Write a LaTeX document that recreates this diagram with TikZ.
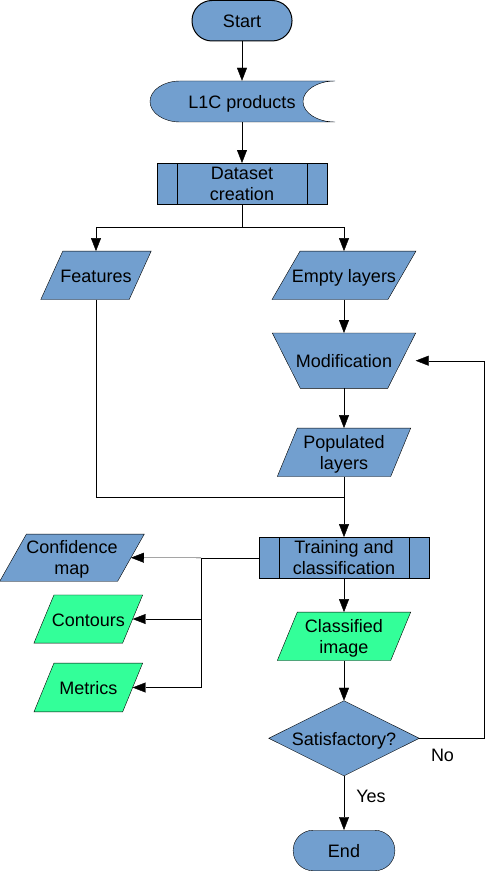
\documentclass[tikz,border=0pt]{standalone}
\usepackage{fontspec}
\setmainfont{Liberation Sans}
\usetikzlibrary{calc,arrows.meta}
\pgfdeclarelayer{bg}\pgfsetlayers{bg,main}
\definecolor{fblue}{HTML}{729FCF}
\definecolor{fgreen}{HTML}{33FF99}
\newcommand\paraShape[3]{%
  \begin{pgfonlayer}{bg}
  \filldraw[fill=#2] ($(#1.north west)+(#3,0)$) -- ($(#1.north east)+(#3,0)$) -- ($(#1.south east)+(-#3,0)$) -- ($(#1.south west)+(-#3,0)$) -- cycle;
  \end{pgfonlayer}}
\newcommand\procLines[1]{%
  \draw ($(#1.north west)+(20,0)$) -- ($(#1.south west)+(20,0)$);
  \draw ($(#1.north east)+(-20,0)$) -- ($(#1.south east)+(-20,0)$);}
\newcommand\nodp[1]{\raisebox{0pt}[\height][0pt]{#1}}
\begin{document}
\begin{tikzpicture}[x=1pt,y=-1pt,line width=1pt,
  every node/.style={font=\fontsize{18}{20.5}\selectfont,align=center,inner sep=0pt},
  single/.style={text height=14pt,text depth=0pt},
  term/.style={draw,fill=fblue,rectangle,rounded corners=20pt,minimum width=#1,minimum height=40.5pt,single},
  proc/.style={draw,fill=fblue,rectangle,minimum width=170pt,minimum height=41pt},
  iobox/.style={rectangle,minimum width=#1,minimum height=48pt},
  arr/.style={-{Triangle[length=13pt,width=10pt]}}]
\useasboundingbox (0,0) rectangle (485,872);

% Start
\node[term=100pt] (start) at (242,20.75) {Start};

% L1C products (stored data)
\begin{pgfonlayer}{bg}
\filldraw[fill=fblue] (180,81) -- (335,81)
  .. controls (317.3,81) and (303,90.2) .. (303,101.5)
  .. controls (303,112.8) and (317.3,122) .. (335,122)
  -- (180,122)
  .. controls (163.4,122) and (150,112.8) .. (150,101.5)
  .. controls (150,90.2) and (163.4,81) .. (180,81) -- cycle;
\end{pgfonlayer}
\node[rectangle,minimum width=186pt,minimum height=41pt,single] (l1c) at (242,101.5) {L1C products};

% Dataset creation
\node[proc] (ds) at (242,183.7) {Dataset\\creation};
\procLines{ds}

% Features / Empty layers
\node[iobox=88pt,single] (feat) at (96,275.3) {Features};
\paraShape{feat}{fblue}{11}
\node[iobox=115.5pt,single] (empty) at (344,275.3) {Empty layers};
\paraShape{empty}{fblue}{14}

% Modification
\node[rectangle,minimum width=143pt,minimum height=55pt,single] (mod) at (344,360.7) {Modification};
\begin{pgfonlayer}{bg}
\filldraw[fill=fblue] (mod.north west) -- (mod.north east) -- ($(mod.south east)+(-28,0)$) -- ($(mod.south west)+(28,0)$) -- cycle;
\end{pgfonlayer}

% Populated layers
\node[iobox=113pt] (pop) at (344,452.3) {Populated\\\nodp{layers}};
\paraShape{pop}{fblue}{10}

% Training and classification
\node[proc] (train) at (344,557.8) {Training and\\classification};
\procLines{train}

% Outputs
\node[iobox=117.5pt,minimum height=46.7pt] (conf) at (72,557.7) {Confidence\\\nodp{map}};
\paraShape{conf}{fblue}{13.3}
\node[iobox=88.3pt,minimum height=47.7pt,single] (cont) at (88.3,619) {Contours};
\paraShape{cont}{fgreen}{10}
\node[iobox=88.3pt,minimum height=48.4pt,single] (met) at (88.3,687.5) {Metrics};
\paraShape{met}{fgreen}{10}

% Classified image
\node[iobox=113pt] (cls) at (344,636.3) {Classified\\\nodp{image}};
\paraShape{cls}{fgreen}{10}

% Decision
\node[rectangle,minimum width=150pt,minimum height=74.7pt,single] (sat) at (344,738.3) {Satisfactory?};
\begin{pgfonlayer}{bg}
\filldraw[fill=fblue] (sat.north) -- (sat.east) -- (sat.south) -- (sat.west) -- cycle;
\end{pgfonlayer}

% End
\node[term=101.7pt] (end) at (344,850.5) {End};

% Labels
\node (yes) at (371,796) {Yes};
\node (no) at (442.5,755) {No};

% Connectors
\draw[arr] (start.south) -- (l1c.north);
\draw[arr] (l1c.south) -- (ds.north);
\draw (ds.south) -- ($(ds.south)+(0,23)$) coordinate (sp);
\draw[arr] (sp) -| (feat.north);
\draw[arr] (sp) -| (empty.north);
\draw[arr] (empty.south) -- (mod.north);
\draw[arr] (mod.south) -- (pop.north);
\draw (feat.south) |- ($(pop.south)+(0,21)$) coordinate (join);
\draw[arr] (pop.south) -- (train.north);
\draw[arr] (train.south) -- (cls.north);
\draw[arr] (cls.south) -- (sat.north);
\draw[arr] (sat.south) -- (end.north);
\coordinate (rr) at (484,0);
\draw[arr] (sat.east) -- (sat.east -| rr) -- (rr |- mod.east) -- (mod.east);
\draw (train.west) -- ($(train.west)+(-58,0)$) coordinate (br);
\draw[arr] (br) -- (conf.east);
\draw[arr] (br) |- (cont.east);
\draw[arr] (br) |- (met.east);
\end{tikzpicture}
\end{document}
